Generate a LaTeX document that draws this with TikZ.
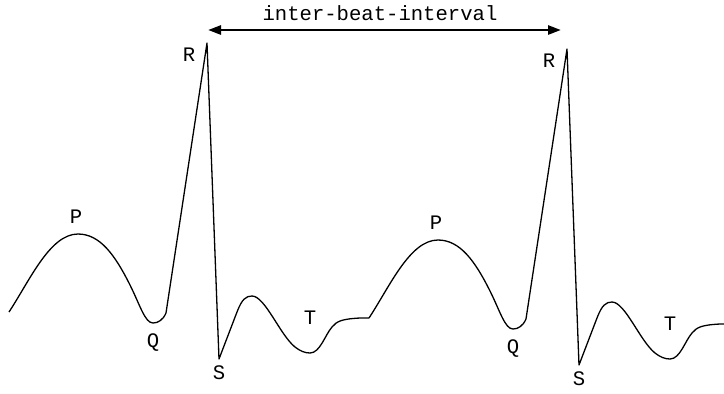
\documentclass[tikz,border=0pt]{standalone}
\usepackage{fontspec}
\setmonofont{Liberation Mono}
\usetikzlibrary{arrows.meta}
\tikzset{
  wave/.style={line width=0.65pt, line join=round},
  lbl/.style={font=\fontsize{10.3}{12}\selectfont\ttfamily, inner sep=0pt},
  ibi/.style={{Triangle[length=6.5pt, width=4.5pt]}-{Triangle[length=6.5pt, width=4.5pt]}, line width=1.3pt},
}

\begin{document}
\begin{tikzpicture}[x=0.5pt, y=-0.5pt]
  \useasboundingbox (0,0) rectangle (724,393);
  % two beats, the second one shifted right and a bit down
  \foreach \b/\dx/\dy in {1/0/0, 2/360/6} {
    \begin{scope}[shift={(\dx,\dy)}]
      \clip (-\dx,-\dy) rectangle (724-\dx,393-\dy);
      \draw[wave] (9,312) .. controls (30,280) and (50,234) .. (78,234)
        .. controls (100,234) and (115,255) .. (130,285)
        .. controls (140,305) and (145,323) .. (153,323)
        .. controls (158,323) and (163,320) .. (166,313)
        -- (207,43) -- (219,359) -- (237,312)
        .. controls (242,299) and (246,296) .. (252,296)
        .. controls (265,296) and (280,335) .. (295,347)
        .. controls (300,351) and (305,353) .. (310,353)
        .. controls (320,353) and (325,335) .. (332,327)
        .. controls (337,321) and (342,319) .. (360,318) -- (369,318);
      \node[lbl] (P\b) at (76,217) {P};
      \node[lbl] (Q\b) at (153,343) {Q};
      \node[lbl] (R\b) at (189,55) {R};
      \node[lbl] (S\b) at (219,373) {S};
      \node[lbl] (T\b) at (310,318) {T};
    \end{scope}
  }
  \coordinate (ibiL) at (208,30);
  \coordinate (ibiR) at (561,30);
  \draw[ibi] (ibiL) -- (ibiR);
  \node[lbl] (ibilabel) at (380,13) {inter-beat-interval};
\end{tikzpicture}
\end{document}
